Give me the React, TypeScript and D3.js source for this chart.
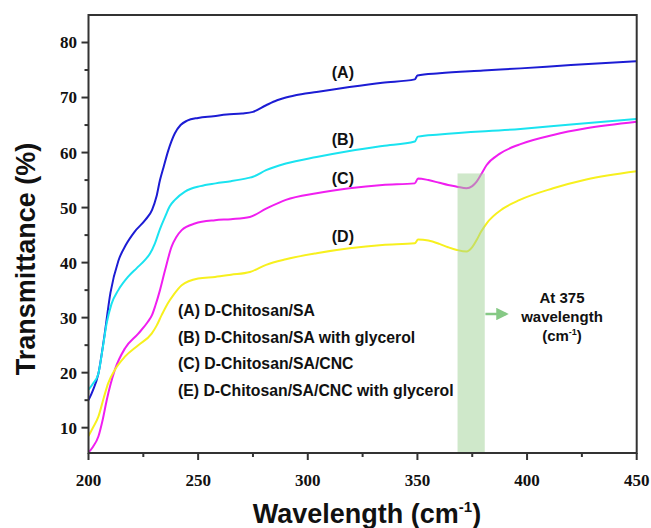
import React from "react";
import * as d3 from "d3";

const seriesA: [number, number][] = [[200,15.0],[202,16.8],[204.5,19.8],[207,26],[210,34.5],[213.6,40.3],[217,43.2],[221,45.6],[226,47.8],[229,49.6],[231,52],[232.6,55],[234.2,57.3],[236.4,60.4],[239.4,63.5],[242,65],[245,65.8],[250,66.3],[257,66.6],[263,66.9],[270,67.1],[275,67.4],[281,68.6],[286,69.5],[290,70.0],[297,70.6],[304,71.0],[319,71.9],[334,72.7],[348.8,73.3],[350,74.0],[360,74.4],[380,74.9],[397,75.3],[420,75.9],[450,76.6]];
const seriesB: [number, number][] = [[200,16.9],[202,18],[204.5,19.8],[206.5,24.5],[208.3,29.0],[210.5,32.5],[213.6,35.0],[218,37.4],[222,39],[225.8,40.5],[228,41.6],[230.3,43.5],[232.5,46],[234.9,48.3],[237,50.2],[239.4,51.4],[244,52.9],[251,53.9],[258,54.4],[265,54.8],[273,55.4],[275,55.6],[281,56.8],[290,58.0],[304,59.2],[319,60.3],[334,61.2],[348.8,62.0],[350.2,62.9],[360,63.3],[397,64.3],[420,65.1],[450,66.1]];
const seriesC: [number, number][] = [[200,5.5],[202,6.5],[204.5,8.4],[206.5,11.5],[208.3,15.0],[212,20.5],[216.6,24.4],[222.7,27.1],[227,29.2],[229,30.5],[230.5,32.2],[232.6,35.0],[234.9,38.6],[237.9,42.9],[240,44.6],[242.5,45.9],[248.5,47.1],[257.7,47.7],[265,47.9],[273.6,48.3],[281,49.8],[290,51.4],[304,52.6],[319,53.5],[334,54.1],[348.8,54.4],[350.3,55.3],[355,55.0],[360,54.5],[364,54.1],[368,53.8],[372.4,53.5],[375,53.9],[377,54.7],[379,56],[381.5,57.7],[387.6,59.8],[396.7,61.5],[411.9,63.2],[427,64.4],[450,65.6]];
const seriesD: [number, number][] = [[200,8.5],[202,10],[204.5,12.0],[207,15.5],[209,18.1],[212,20.5],[216.6,22.9],[222.7,25.0],[228.8,27.1],[231,28.5],[233.4,30.5],[236,32.5],[238.7,34.1],[242.5,35.9],[250,37.1],[257.7,37.4],[265,37.8],[273.6,38.3],[281,39.6],[290,40.6],[304,41.7],[319,42.6],[334,43.2],[348.8,43.5],[350.3,44.2],[355,44.0],[360,43.4],[364,42.8],[368,42.3],[372.4,42.0],[375,42.8],[377,44.1],[379,45.6],[381.5,47.1],[389,49.8],[396.7,51.4],[411.9,53.5],[427,55.1],[450,56.6]];

const seriesColors = ["#1c1cd4", "#1ae3f0", "#f01ef0", "#f7f01e"];
const curveLabels = ["(A)", "(B)", "(C)", "(D)"];
const curveLabelPos: [number, number][] = [[316, 73.5], [316, 61.4], [316, 54.2], [316, 43.8]];
const legendItems = [
  "(A) D-Chitosan/SA",
  "(B) D-Chitosan/SA with glycerol",
  "(C) D-Chitosan/SA/CNC",
  "(E) D-Chitosan/SA/CNC with glycerol",
];
const xMajor = [200, 250, 300, 350, 400, 450];
const xMinor = [225, 275, 325, 375, 425];
const yMajor = [10, 20, 30, 40, 50, 60, 70, 80];
const yMinor = [15, 25, 35, 45, 55, 65, 75];
const band = { x0: 368.3, x1: 380.7, top: 56.2 };

export default function App() {
  const left = 88.5, right = 636.7, top = 15, bottom = 453;
  const x = d3.scaleLinear().domain([200, 450]).range([left, right]);
  const y = d3.scaleLinear().domain([5.4, 85]).range([bottom, top]);
  const line = d3.line<[number, number]>().x(d => x(d[0])).y(d => y(d[1])).curve(d3.curveMonotoneX);
  const all = [seriesA, seriesB, seriesC, seriesD];
  const axisColor = "#333";
  const tickFont = "'Liberation Serif', 'Times New Roman', serif";
  const sans = "'Liberation Sans', Arial, Helvetica, sans-serif";
  return (
    <svg width={651} height={528} style={{ position: "absolute", left: 0, top: 0 }}>
      <defs>
        <clipPath id="plotclip"><rect x={left} y={top} width={right - left} height={bottom - top} /></clipPath>
        <marker id="arr" viewBox="0 0 10 10" refX="8" refY="5" markerWidth="5" markerHeight="5" orient="auto">
          <path d="M0,0 L10,5 L0,10 z" fill="#86c985" />
        </marker>
      </defs>
      <rect width={651} height={528} fill="#fff" />
      <g clipPath="url(#plotclip)">
        {all.map((s, i) => (
          <path key={i} d={line(s) || ""} fill="none" stroke={seriesColors[i]} strokeWidth={2} />
        ))}
        <rect x={x(band.x0)} y={y(band.top)} width={x(band.x1) - x(band.x0)} height={bottom - y(band.top)} fill="rgb(160,210,150)" fillOpacity={0.5} />
      </g>
      {curveLabels.map((t, i) => (
        <text key={t} x={x(curveLabelPos[i][0])} y={y(curveLabelPos[i][1])} textAnchor="middle" fontFamily={sans} fontWeight="bold" fontSize={16} fill="#111">{t}</text>
      ))}
      {legendItems.map((t, i) => (
        <text key={t} x={178} y={316 + i * 26.5} fontFamily={sans} fontWeight="bold" fontSize={15.8} fill="#111">{t}</text>
      ))}
      <line x1={x(381)} x2={x(390.5)} y1={314} y2={314} stroke="#86c985" strokeWidth={2.5} markerEnd="url(#arr)" />
      <text x={562} y={303} textAnchor="middle" fontFamily={sans} fontWeight="bold" fontSize={15} fill="#111">At 375</text>
      <text x={562} y={322} textAnchor="middle" fontFamily={sans} fontWeight="bold" fontSize={15} fill="#111">wavelength</text>
      <text x={562} y={341} textAnchor="middle" fontFamily={sans} fontWeight="bold" fontSize={15} fill="#111">(cm<tspan dy={-6} fontSize={9}>-1</tspan><tspan dy={6}>)</tspan></text>
      <rect x={left} y={top} width={right - left} height={bottom - top} fill="none" stroke={axisColor} strokeWidth={2} />
      {xMajor.map(v => (
        <g key={"xM" + v}>
          <line x1={x(v)} x2={x(v)} y1={bottom} y2={bottom + 7} stroke={axisColor} strokeWidth={2} />
          <text x={x(v)} y={486} textAnchor="middle" fontFamily={tickFont} fontWeight="bold" fontSize={17} fill="#111">{v}</text>
        </g>
      ))}
      {xMinor.map(v => (
        <line key={"xm" + v} x1={x(v)} x2={x(v)} y1={bottom} y2={bottom + 4} stroke={axisColor} strokeWidth={2} />
      ))}
      {yMajor.map(v => (
        <g key={"yM" + v}>
          <line x1={left - 7} x2={left} y1={y(v)} y2={y(v)} stroke={axisColor} strokeWidth={2} />
          <text x={77} y={y(v)} dy="0.35em" textAnchor="end" fontFamily={tickFont} fontWeight="bold" fontSize={17} fill="#111">{v}</text>
        </g>
      ))}
      {yMinor.map(v => (
        <line key={"ym" + v} x1={left - 4} x2={left} y1={y(v)} y2={y(v)} stroke={axisColor} strokeWidth={2} />
      ))}
      <text transform="translate(35,259) rotate(-90)" textAnchor="middle" fontFamily={sans} fontWeight="bold" fontSize={27} fill="#111">Transmittance (%)</text>
      <text x={367} y={523} textAnchor="middle" fontFamily={sans} fontWeight="bold" fontSize={27} fill="#111">Wavelength (cm<tspan dy={-11} fontSize={15}>-1</tspan><tspan dy={11}>)</tspan></text>
    </svg>
  );
}
